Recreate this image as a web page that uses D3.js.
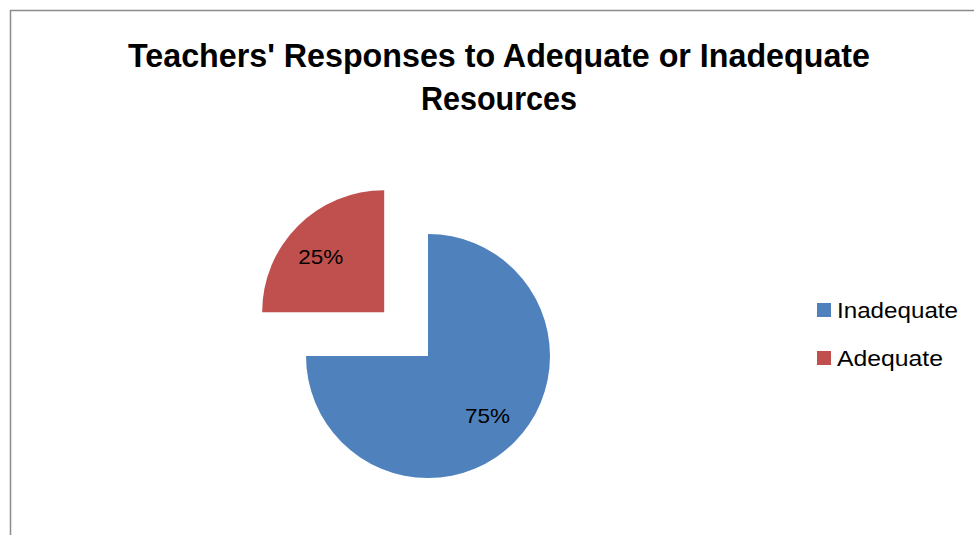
<!DOCTYPE html>
<html><head><meta charset="utf-8">
<script src="https://cdn.jsdelivr.net/npm/d3@7"></script>
<style>body{margin:0;background:#fff}svg{display:block}</style>
</head><body>
<script>
const categories = ["Inadequate", "Adequate"];
const values = [75, 25];
const labels = ["75%", "25%"];
const colors = ["#4F81BD", "#C0504D"];
const titleLines = ["Teachers' Responses to Adequate or Inadequate", "Resources"];

const W = 974, H = 535;
const svg = d3.select("body").append("svg").attr("width", W).attr("height", H);
svg.append("rect").attr("width", W).attr("height", H).attr("fill", "#fff");
svg.append("rect").attr("x", 10.5).attr("y", 10.5).attr("width", 1000).attr("height", 600)
  .attr("fill", "none").attr("stroke", "#8c8c8c").attr("stroke-width", 1.5);

function fit(t, w) {
  t.attr("textLength", w).attr("lengthAdjust", "spacingAndGlyphs");
}

const font = "'Liberation Sans', Arial, sans-serif";
const t1 = svg.append("text").attr("x", 499).attr("y", 67).attr("text-anchor", "middle")
  .attr("font-family", font).attr("font-weight", "bold").attr("font-size", 34).text(titleLines[0]);
fit(t1, 742);
const t2 = svg.append("text").attr("x", 499).attr("y", 110).attr("text-anchor", "middle")
  .attr("font-family", font).attr("font-weight", "bold").attr("font-size", 34).text(titleLines[1]);
fit(t2, 156);

const cx = 428, cy = 356, r = 122;
const pie = d3.pie().sort(null).value(d => d)(values);
const arc = d3.arc().innerRadius(0).outerRadius(r);
const labelArc = d3.arc().innerRadius(84).outerRadius(84);
const explode = [0, 62];
const labelWidths = [45, 45];

const g = svg.append("g").attr("transform", `translate(${cx},${cy})`);
pie.forEach((p, i) => {
  const mid = (p.startAngle + p.endAngle) / 2;
  const dx = Math.sin(mid) * explode[i], dy = -Math.cos(mid) * explode[i];
  const sg = g.append("g").attr("transform", `translate(${dx},${dy})`);
  sg.append("path").attr("d", arc(p)).attr("fill", colors[i]);
  const c = labelArc.centroid(p);
  const t = sg.append("text").attr("x", c[0] - (i === 1 ? 4 : 0)).attr("y", c[1] + (i === 1 ? 4 : 0)).attr("dy", "0.35em")
    .attr("text-anchor", "middle").attr("font-family", font).attr("font-size", 21)
    .attr("fill", "#000").text(labels[i]);
  fit(t, labelWidths[i]);
});

const leg = svg.append("g");
categories.forEach((c, i) => {
  const y = 310 + i * 48;
  leg.append("rect").attr("x", 817).attr("y", y - 7).attr("width", 14).attr("height", 14).attr("fill", colors[i]);
  const t = leg.append("text").attr("x", 837).attr("y", y).attr("dy", "0.36em")
    .attr("font-family", font).attr("font-size", 22).attr("fill", "#000").text(c);
  fit(t, i === 0 ? 121 : 106);
});
</script>
</body></html>
